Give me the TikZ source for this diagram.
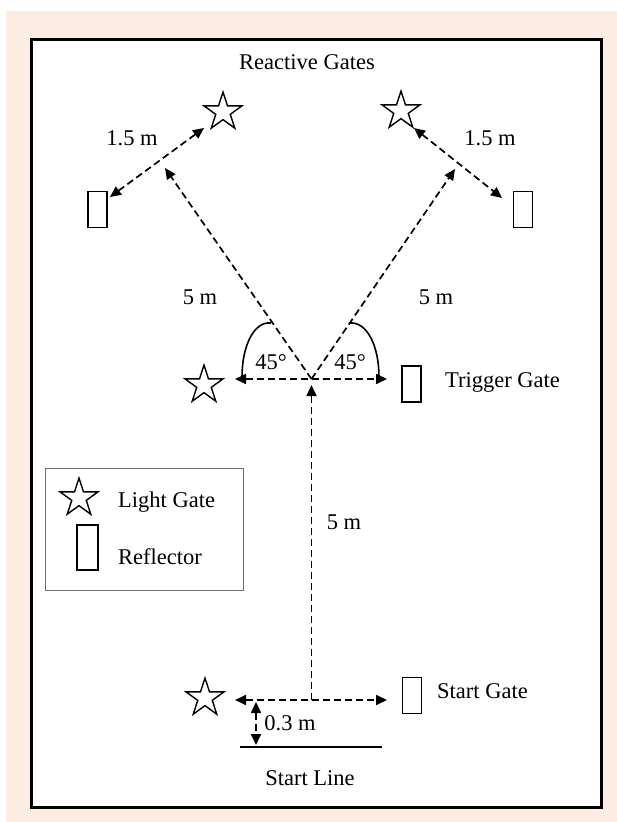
\documentclass[tikz,border=0pt]{standalone}
\usepackage{fontspec}
\setmainfont{Liberation Serif}
\usetikzlibrary{arrows.meta,shapes.geometric}
\definecolor{peach}{RGB}{253,236,226}
\definecolor{legendgray}{RGB}{110,110,110}
\begin{document}
\begin{tikzpicture}[x=1pt,y=-1pt,
  >={Triangle[length=11pt,width=10pt]},
  lbl/.style={font=\fontsize{22.5}{27}\selectfont, inner sep=0pt},
  gate/.style={draw, star, star points=5, star point ratio=2.618, minimum size=40pt, inner sep=0pt, line width=1.4pt},
  refl/.style={draw, rectangle, minimum width=19pt, minimum height=36pt, inner sep=0pt, line width=1.6pt},
  dsh/.style={dash pattern=on 7pt off 4pt, line width=1.7pt},
  arcline/.style={line width=1.6pt},
]
\useasboundingbox (0,0) rectangle (617,822);
\fill[white] (0,0) rectangle (617,822);
\fill[peach] (6,11) rectangle (617,822);
\draw[line width=3pt, fill=white] (31.5,39.5) rectangle (601.5,807);

% legend
\node[draw=legendgray, line width=1pt, minimum width=198pt, minimum height=122pt, inner sep=0pt] (legend) at (144,529) {};
\node[gate] (lgStar) at (79,498) {};
\node[lbl, anchor=west] (lgStarTxt) at (118,502) {Light Gate};
\node[refl, minimum width=21pt, minimum height=45pt] (lgRefl) at (87.5,547.5) {};
\node[lbl, anchor=west] (lgReflTxt) at (118,557) {Reflector};

% title
\node[lbl] (title) at (307,62) {Reactive Gates};

% reactive gates
\node[gate] (sTL) at (223,112) {};
\node[gate] (sTR) at (401,111) {};
\node[refl] (rL) at (97.5,209.5) {};
\node[refl] (rR) at (523,209.5) {};
\node[lbl] (dL) at (132,138) {1.5 m};
\node[lbl] (dR) at (490,138) {1.5 m};
\coordinate (aL1) at (110,197);
\coordinate (aL2) at (204,128);
\coordinate (aR1) at (414,128);
\coordinate (aR2) at (502,198);
\draw[dsh,<->] (aL1) -- (aL2);
\draw[dsh,<->] (aR1) -- (aR2);

% trigger point and diagonals
\coordinate (o) at (311.5,379);
\coordinate (tUL) at (165,168);
\coordinate (tUR) at (455,169);
\draw[dsh,->] (o) -- (tUL);
\draw[dsh,->] (o) -- (tUR);
\node[lbl] (fiveL) at (200,297) {5 m};
\node[lbl] (fiveR) at (436,297) {5 m};

% angle arcs
\coordinate (arcL1) at (271,323);
\coordinate (arcL2) at (242,377);
\coordinate (arcR1) at (349,323);
\coordinate (arcR2) at (379,377);
\draw[arcline] (arcL1) .. controls (254,321) and (242,346) .. (arcL2);
\draw[arcline] (arcR1) .. controls (367,321) and (379,346) .. (arcR2);
\node[lbl] (angL) at (271,362) {45°};
\node[lbl] (angR) at (350,362) {45°};

% trigger gate
\coordinate (hL) at (235,379);
\coordinate (hR) at (387,379);
\draw[dsh,<->] (hL) -- (hR);
\node[gate] (sMid) at (204,385) {};
\node[refl] (rMid) at (411.5,384) {};
\node[lbl, anchor=west] (trigTxt) at (445,382) {Trigger Gate};

% vertical 5 m
\coordinate (vB) at (311.5,700);
\coordinate (vT) at (311.5,385);
\draw[dsh,->] (vB) -- (vT);
\node[lbl] (fiveV) at (344,522) {5 m};

% start gate
\coordinate (bL) at (235,700);
\coordinate (bR) at (387,700);
\draw[dsh,<->] (bL) -- (bR);
\node[gate] (sBot) at (205,698) {};
\node[refl] (rBot) at (412,695.5) {};
\node[lbl, anchor=west] (startTxt) at (437,691) {Start Gate};

% 0.3 m
\coordinate (zT) at (256,702);
\coordinate (zB) at (256,745);
\draw[dsh,<->] (zT) -- (zB);
\node[lbl] (zeroTxt) at (290,723) {0.3 m};

% start line
\coordinate (slL) at (240,747);
\coordinate (slR) at (382,747);
\draw[line width=1.5pt] (slL) -- (slR);
\node[lbl] (slTxt) at (310,778) {Start Line};
\end{tikzpicture}
\end{document}
